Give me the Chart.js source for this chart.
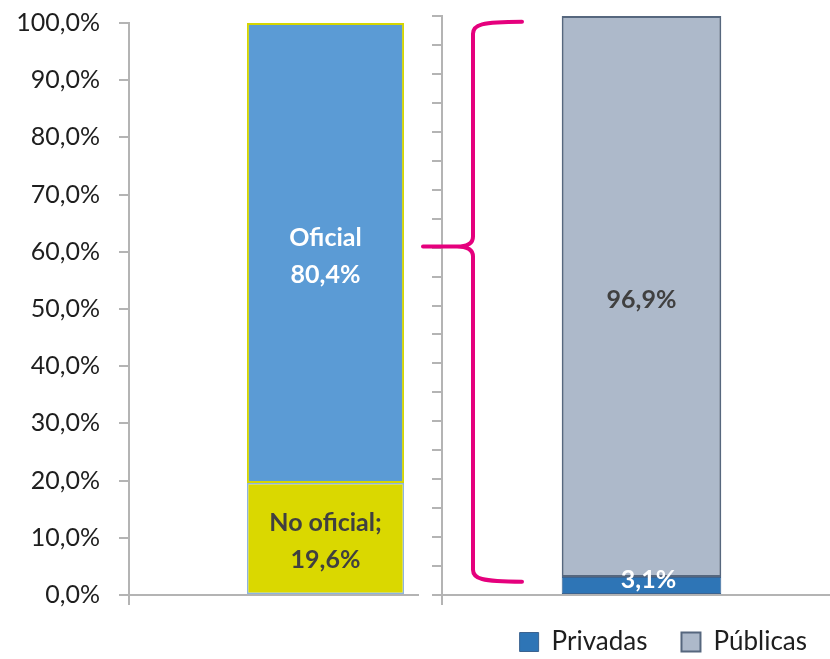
<!DOCTYPE html>
<html>
<head>
<meta charset="utf-8">
<script src="https://cdn.jsdelivr.net/npm/chart.js@4.4.1/dist/chart.umd.min.js"></script>
<style>
  html, body { margin: 0; padding: 0; background: #fff; overflow: hidden; }
  #wrap { position: relative; width: 830px; height: 659px; overflow: hidden; }
  #leftChart { position: absolute; left: 0; top: 0; }
  #rightChart { position: absolute; left: 419px; top: 0; background: #fff; }
</style>
</head>
<body>
<div id="wrap">
  <canvas id="leftChart" width="522" height="659"></canvas>
  <canvas id="rightChart" width="422" height="659"></canvas>
</div>
<script>
// Left bar: official / non official (%)
const leftSeries = ["No oficial", "Oficial"];
const leftValues = [19.6, 80.4];

// Right bar: split of the official part (%)
const rightSeries = ["Privadas", "Públicas"];
const rightValues = [3.1, 96.9];

// Axis ticks
const leftTicks = [0, 10, 20, 30, 40, 50, 60, 70, 80, 90, 100];
const rightTicks = [0, 5, 10, 15, 20, 25, 30, 35, 40, 45, 50, 55, 60, 65, 70, 75, 80, 85, 90, 95, 100];

// Brace: top, tip, bottom (values on the right axis)
const braceValues = [99, 60.2, 2.3];

const AXIS = "#B4B4B4";
const FONT = "Lato";

function fmt(v) {
  return v.toFixed(1).replace(".", ",") + "%";
}

// ============================
// Labels inside the bars
// ============================
const barLabels = {
  id: "barLabels",
  afterDatasetsDraw(chart) {
    const ctx = chart.ctx;
    ctx.save();
    ctx.textAlign = "center";
    ctx.textBaseline = "middle";
    ctx.font = "bold 25px " + FONT;
    chart.data.datasets.forEach((ds, i) => {
      const bar = chart.getDatasetMeta(i).data[0];
      if (!bar) return;
      const lines = ds.nameInLabel
        ? [ds.label + ds.nameSep, fmt(ds.data[0])]
        : [fmt(ds.data[0])];
      const off = ds.labelOffset || [0, 0];
      const cx = bar.x + off[0];
      const cy = (bar.y + bar.base) / 2 + 3 + off[1];
      const lh = 37;
      ctx.fillStyle = ds.labelColor;
      lines.forEach((t, k) => {
        ctx.fillText(t, cx, cy + (k - (lines.length - 1) / 2) * lh);
      });
    });
    ctx.restore();
  },
};

// ============================
// Pink brace next to the right axis
// ============================
const brace = {
  id: "brace",
  afterDraw(chart) {
    const y = chart.scales.y;
    const x0 = chart.chartArea.left;
    const yTop = y.getPixelForValue(braceValues[0]);
    const yTip = y.getPixelForValue(braceValues[1]);
    const yBot = y.getPixelForValue(braceValues[2]);
    const xv = x0 + 31;
    const xe = x0 + 80;
    const xt = x0 - 19;
    const ctx = chart.ctx;
    ctx.save();
    ctx.strokeStyle = "#E5007D";
    ctx.lineWidth = 4;
    ctx.lineCap = "round";
    ctx.lineJoin = "round";
    ctx.beginPath();
    ctx.moveTo(xe, yTop);
    ctx.bezierCurveTo(xv + 8, yTop, xv, yTop + 3, xv, yTop + 12);
    ctx.lineTo(xv, yTip - 10);
    ctx.quadraticCurveTo(xv, yTip, xv - 16, yTip);
    ctx.lineTo(xt, yTip);
    ctx.moveTo(xv - 16, yTip);
    ctx.quadraticCurveTo(xv, yTip, xv, yTip + 10);
    ctx.lineTo(xv, yBot - 12);
    ctx.bezierCurveTo(xv, yBot - 3, xv + 8, yBot, xe, yBot);
    ctx.stroke();
    ctx.restore();
  },
};

function axisX() {
  return {
    stacked: true,
    ticks: { display: false },
    grid: { drawOnChartArea: false, tickLength: 10, color: AXIS, lineWidth: 2 },
    border: { color: AXIS, width: 2 },
    afterFit: (s) => { s.height = 0; },
  };
}

function drawCharts() {
  Chart.defaults.font.family = FONT;

  new Chart(document.getElementById("leftChart"), {
    type: "bar",
    data: {
      labels: [""],
      datasets: [
        {
          label: leftSeries[0],
          data: [leftValues[0]],
          backgroundColor: "#DAD800",
          borderColor: "#8DB4E2",
          borderWidth: 1.5,
          labelColor: "#404040",
          nameInLabel: true,
          nameSep: ";",
        },
        {
          label: leftSeries[1],
          data: [leftValues[1]],
          backgroundColor: "#5B9BD5",
          borderColor: "#D6D600",
          borderWidth: 2,
          labelColor: "#FFFFFF",
          nameInLabel: true,
          nameSep: "",
        },
      ],
    },
    options: {
      responsive: false,
      animation: false,
      devicePixelRatio: 1,
      layout: { padding: { top: 23, bottom: 64, left: 0, right: 0 } },
      datasets: { bar: { barPercentage: 1, categoryPercentage: 0.4, borderSkipped: false } },
      plugins: { legend: { display: false }, tooltip: { enabled: false } },
      scales: {
        x: axisX(),
        y: {
          stacked: true,
          min: 0,
          max: 100,
          afterBuildTicks: (s) => { s.ticks = leftTicks.map((v) => ({ value: v })); },
          afterFit: (s) => {
            s.width = 129;
            s.paddingTop = 0;
            s.paddingBottom = 0;
          },
          ticks: {
            padding: 19,
            color: "#1E1E1E",
            font: { size: 25 },
            callback: (v) => fmt(v),
          },
          grid: { drawOnChartArea: false, tickLength: 10, color: AXIS, lineWidth: 2 },
          border: { color: AXIS, width: 2 },
        },
      },
    },
    plugins: [barLabels],
  });

  new Chart(document.getElementById("rightChart"), {
    type: "bar",
    data: {
      labels: [""],
      datasets: [
        {
          label: rightSeries[0],
          data: [rightValues[0]],
          backgroundColor: "#2E75B6",
          borderColor: "#3B6390",
          borderWidth: 1,
          labelColor: "#FFFFFF",
          nameInLabel: false,
          labelOffset: [7, -9],
        },
        {
          label: rightSeries[1],
          data: [rightValues[1]],
          backgroundColor: "#ADB9CA",
          borderColor: "#56677E",
          borderWidth: 2,
          labelColor: "#404040",
          nameInLabel: false,
        },
      ],
    },
    options: {
      responsive: false,
      animation: false,
      devicePixelRatio: 1,
      layout: { padding: { top: 16, bottom: 0, left: 0, right: 0 } },
      datasets: { bar: { barPercentage: 1, categoryPercentage: 0.4, borderSkipped: false } },
      plugins: {
        tooltip: { enabled: false },
        legend: {
          position: "bottom",
          align: "end",
          maxHeight: 64,
          labels: {
            font: { size: 26 },
            color: "#1E1E1E",
            boxWidth: 19,
            boxHeight: 19,
            padding: 34,
          },
        },
      },
      scales: {
        x: axisX(),
        y: {
          stacked: true,
          min: 0,
          max: 100,
          afterBuildTicks: (s) => { s.ticks = rightTicks.map((v) => ({ value: v })); },
          afterFit: (s) => { s.width = 23; },
          ticks: { display: false },
          grid: { drawOnChartArea: false, tickLength: 10, color: AXIS, lineWidth: 2 },
          border: { color: AXIS, width: 2 },
        },
      },
    },
    plugins: [barLabels, brace],
  });
}

Promise.all([
  document.fonts.load("25px " + FONT),
  document.fonts.load("bold 25px " + FONT),
]).then(drawCharts, drawCharts);
</script>
</body>
</html>
